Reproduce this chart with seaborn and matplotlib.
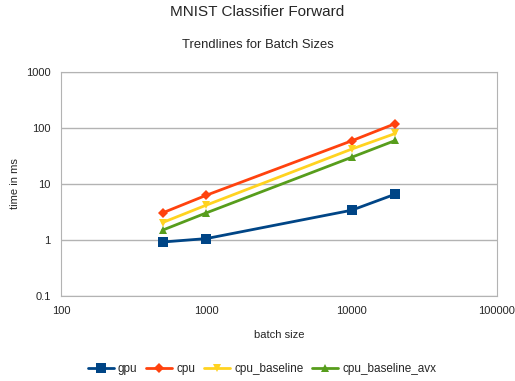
import matplotlib
matplotlib.use("Agg")
import matplotlib.pyplot as plt
import matplotlib.ticker as mticker
import pandas as pd
import seaborn as sns

# values
batch_sizes = [500, 1000, 10000, 20000]
gpu = [0.92, 1.06, 3.4, 6.6]
cpu = [3.05, 6.3, 59, 120]
cpu_baseline = [2.05, 4.2, 42, 80]
cpu_baseline_avx = [1.5, 3.05, 30, 60]

series = ["gpu", "cpu", "cpu_baseline", "cpu_baseline_avx"]
colors = ["#004586", "#ff420e", "#ffd320", "#579d1c"]
markers = ["s", "D", "v", "^"]

df = pd.DataFrame({"batch size": batch_sizes, "gpu": gpu, "cpu": cpu,
                   "cpu_baseline": cpu_baseline, "cpu_baseline_avx": cpu_baseline_avx})
df = df.melt(id_vars="batch size", var_name="series", value_name="time in ms")

sns.set_style("white")
plt.rcParams["font.family"] = ["Liberation Sans", "DejaVu Sans"]

fig = plt.figure(figsize=(5.15, 3.81), dpi=100)
ax = fig.add_axes([61 / 515, 1 - 296 / 381, 436 / 515, 224 / 381])

sns.lineplot(data=df, x="batch size", y="time in ms", hue="series", style="series",
             hue_order=series, style_order=series, palette=colors,
             markers=dict(zip(series, markers)), dashes=False, linewidth=2,
             markersize=6, markeredgewidth=0, ax=ax)

# diamonds look bigger than the rest at the same size
for ln in ax.lines:
    if ln.get_marker() == "D":
        ln.set_markersize(5)
    elif ln.get_marker() == "s":
        ln.set_markersize(6.5)

ax.set_xscale("log")
ax.set_yscale("log")
ax.set_xlim(100, 100000)
ax.set_ylim(0.1, 1000)
fmt = mticker.FuncFormatter(lambda v, p: f"{v:g}")
ax.xaxis.set_major_formatter(fmt)
ax.yaxis.set_major_formatter(fmt)
ax.xaxis.set_minor_locator(mticker.NullLocator())
ax.yaxis.set_minor_locator(mticker.NullLocator())
ax.grid(axis="y", color="#b3b3b3", linewidth=1)
ax.set_axisbelow(True)
for s in ax.spines.values():
    s.set_color("#b3b3b3")
ax.tick_params(axis="both", length=4, color="#b3b3b3", labelsize=8, width=1)
ax.set_xlabel("batch size", fontsize=8, labelpad=10)
ax.set_ylabel("time in ms", fontsize=8, labelpad=4)

fig.text(0.5, 1 - 12 / 381, "MNIST Classifier Forward", ha="center", va="center", fontsize=11)
fig.text(0.5, 1 - 45 / 381, "Trendlines for Batch Sizes", ha="center", va="center", fontsize=9.4)

handles, labels = ax.get_legend_handles_labels()
ax.legend(handles, labels, loc="center", bbox_to_anchor=(262 / 515, (381 - 369) / 381),
          bbox_transform=fig.transFigure, ncol=4, frameon=False, fontsize=8.5,
          handlelength=2.2, columnspacing=0.75, handletextpad=0.35)

fig.savefig("out.png", dpi=100)
